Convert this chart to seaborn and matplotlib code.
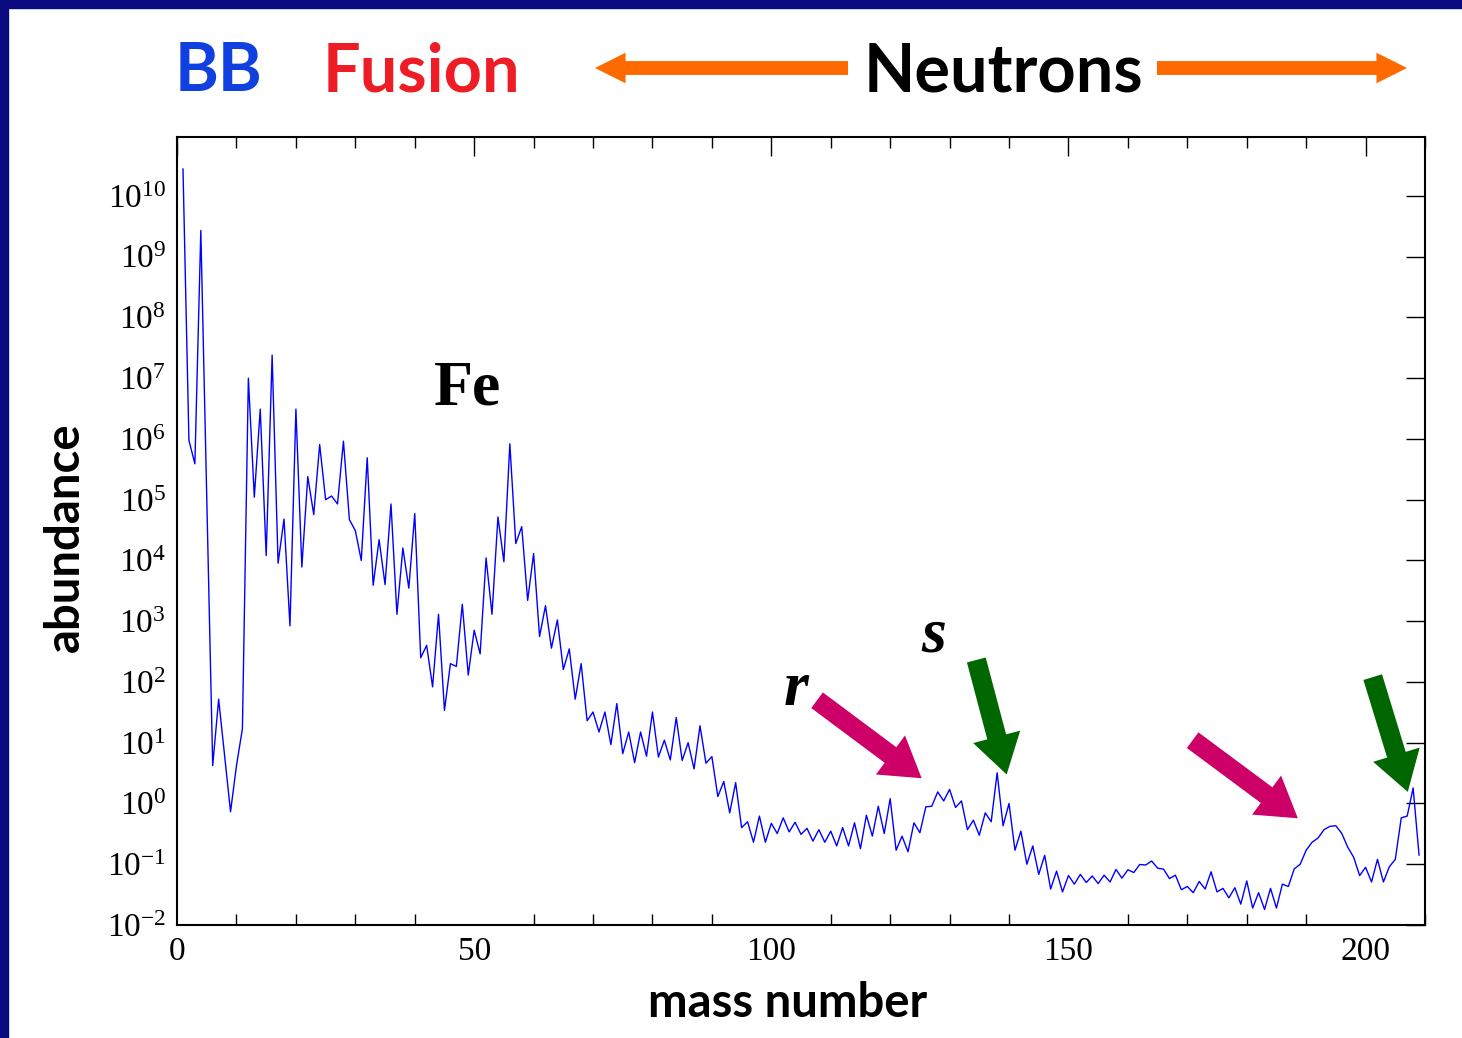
import numpy as np
import pandas as pd
import seaborn as sns
import matplotlib.pyplot as plt
from matplotlib.patches import Rectangle, FancyArrowPatch
from matplotlib.ticker import FixedLocator, MultipleLocator, NullLocator, LogFormatterMathtext

# solar system abundances summed per mass number (Si = 1e6)
mass = [1, 2, 3, 4, 6, 7] + list(range(9, 210))
abundance = [
    2.8e10, 9.5e5, 3.9e5, 2.7e9, 4.2, 52,                                  # 1-7
    0.73, 4.2, 17, 1.0e7, 1.1e5, 3.1e6, 1.2e4, 2.4e7, 9.0e3, 4.8e4, 840,   # 9-19
    3.1e6, 7.8e3, 2.4e5, 5.7e4, 8.1e5, 1.0e5, 1.15e5, 8.5e4, 9.2e5, 4.7e4, # 20-29
    3.1e4, 1.0e4, 4.9e5, 3.9e3, 2.2e4, 4.0e3, 8.5e4, 1.3e3, 1.6e4, 3.5e3,  # 30-39
    5.9e4, 250, 400, 83, 1.3e3, 34, 200, 180, 1.9e3, 130,                  # 40-49
    710, 290, 1.1e4, 1.3e3, 5.2e4, 9.5e3, 8.3e5, 1.9e4, 3.6e4, 2.2e3,      # 50-59
    1.3e4, 560, 1.8e3, 360, 1.05e3, 160, 350, 52, 200, 23,                 # 60-69
    32, 15, 32, 9.3, 44, 6.6, 15, 4.7, 15, 6.0,                            # 70-79
    32, 5.8, 11, 5.2, 26, 5.1, 10, 3.7, 19, 4.6,                           # 80-89
    5.9, 1.3, 2.3, 0.70, 2.2, 0.40, 0.50, 0.23, 0.62, 0.23,                # 90-99
    0.47, 0.32, 0.58, 0.34, 0.49, 0.31, 0.39, 0.24, 0.37, 0.23,            # 100-109
    0.35, 0.20, 0.40, 0.20, 0.48, 0.18, 0.64, 0.29, 0.90, 0.32,            # 110-119
    1.2, 0.17, 0.29, 0.16, 0.48, 0.33, 0.88, 0.90, 1.55, 1.1,              # 120-129
    1.7, 0.86, 1.1, 0.37, 0.53, 0.30, 0.70, 0.50, 3.2, 0.43,               # 130-139
    1.0, 0.17, 0.35, 0.10, 0.20, 0.068, 0.14, 0.039, 0.077, 0.035,         # 140-149
    0.065, 0.047, 0.068, 0.050, 0.064, 0.048, 0.066, 0.051, 0.082, 0.059,  # 150-159
    0.081, 0.073, 0.099, 0.097, 0.113, 0.086, 0.083, 0.058, 0.066, 0.038,  # 160-169
    0.043, 0.034, 0.052, 0.039, 0.075, 0.035, 0.040, 0.028, 0.041, 0.022,  # 170-179
    0.053, 0.019, 0.034, 0.018, 0.040, 0.019, 0.047, 0.043, 0.084, 0.10,   # 180-189
    0.17, 0.23, 0.27, 0.37, 0.42, 0.43, 0.32, 0.19, 0.13, 0.065,           # 190-199
    0.089, 0.051, 0.12, 0.051, 0.091, 0.12, 0.58, 0.62, 1.8, 0.14,         # 200-209
]
df = pd.DataFrame({'mass number': mass, 'abundance': abundance})

sns.set_style('white')
plt.rcParams['font.family'] = ['Liberation Serif', 'DejaVu Serif']
plt.rcParams['text.color'] = 'black'
label_font = ['Lato', 'DejaVu Sans']

fig = plt.figure(figsize=(14.62, 10.38), dpi=100)
ax = fig.add_axes([0.1211, 0.1089, 0.8536, 0.7591])

sns.lineplot(data=df, x='mass number', y='abundance', ax=ax, color='#0000ff',
             linewidth=1.0, errorbar=None)
ax.set_yscale('log')
ax.set_xlim(0, 210)
ax.set_ylim(1e-2, 10 ** 10.97)

# ticks
ax.yaxis.set_major_locator(FixedLocator([10.0 ** k for k in range(-2, 11)]))
ax.yaxis.set_minor_locator(NullLocator())
ax.yaxis.set_major_formatter(LogFormatterMathtext())
ax.xaxis.set_major_locator(MultipleLocator(50))
ax.xaxis.set_minor_locator(MultipleLocator(10))
ax.tick_params(which='major', direction='in', length=14, width=1, labelsize=24,
               top=True, right=True, colors='black', pad=8)
ax.tick_params(which='minor', direction='in', length=8, width=1, top=True, bottom=True,
               colors='black')
for s in ax.spines.values():
    s.set_linewidth(1.5)
    s.set_color('black')
ax.set_xlabel('')
ax.set_ylabel('')

fig.text(788 / 1462, 1 - 1003 / 1038, 'mass number', family=label_font, weight='bold',
         fontsize=34, ha='center', va='center', color='black')
fig.text(65 / 1462, 1 - 537 / 1038, 'abundance', family=label_font, weight='bold',
         fontsize=34, ha='center', va='center', rotation=90, color='black')

# annotations in the plot
ax.text(48.8, 6.5e6, 'Fe', fontsize=46, weight='bold', ha='center', va='center', color='black')
ax.text(104.2, 74, 'r', fontsize=46, weight='bold', style='italic', ha='center', va='center',
        color='black')
ax.text(127.4, 550, 's', fontsize=46, weight='bold', style='italic', ha='center', va='center',
        color='black')

big_arrow = 'simple,head_length=1.0,head_width=1.25,tail_width=0.5'
for tail, tip, col in [((107.7, 50), (125.3, 2.6), '#cc0066'),
                       ((170.9, 11), (188.6, 0.57), '#cc0066'),
                       ((134.5, 230), (139.6, 3.0), '#006600'),
                       ((201.2, 120), (207.1, 1.55), '#006600')]:
    ax.annotate('', xy=tip, xytext=tail,
                arrowprops=dict(arrowstyle=big_arrow, color=col, mutation_scale=28,
                                shrinkA=0, shrinkB=0, lw=0))

# header
fig.text(219 / 1462, 1 - 72 / 1038, 'BB', family=label_font, weight='bold', fontsize=48,
         color='#1040e0', ha='center', va='center')
fig.text(421 / 1462, 1 - 72 / 1038, 'Fusion', family=label_font, weight='bold', fontsize=48,
         color='#ee1c25', ha='center', va='center')
fig.text(1003 / 1462, 1 - 72 / 1038, 'Neutrons', family=label_font, weight='bold', fontsize=48,
         color='black', ha='center', va='center')
head_arrow = 'simple,head_length=1.1,head_width=1.1,tail_width=0.5'
for tail, tip in [((848, 68), (595, 68)), ((1157, 68), (1407, 68))]:
    fig.patches.append(FancyArrowPatch(
        (tail[0] / 1462, 1 - tail[1] / 1038), (tip[0] / 1462, 1 - tip[1] / 1038),
        transform=fig.transFigure, arrowstyle=head_arrow, mutation_scale=20,
        color='#ff6a00', lw=0, shrinkA=0, shrinkB=0))

# slide frame on the left and top
fig.patches.append(Rectangle((0, 0), 8 / 1462, 1, transform=fig.transFigure,
                             color='#0a0a80', zorder=10))
fig.patches.append(Rectangle((0, 1 - 8 / 1038), 1, 8 / 1038, transform=fig.transFigure,
                             color='#0a0a80', zorder=10))

fig.savefig('out.png', dpi=100)
